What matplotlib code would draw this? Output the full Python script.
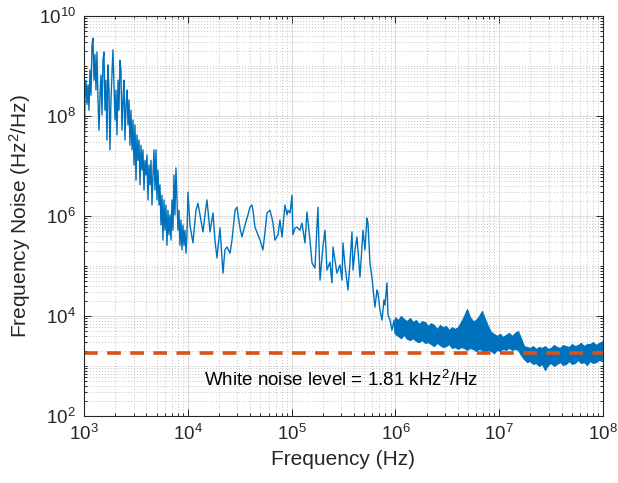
import numpy as np
import matplotlib
matplotlib.use('Agg')
import matplotlib.pyplot as plt
from matplotlib.ticker import LogLocator, NullFormatter

plt.rcParams['font.family'] = ['Liberation Sans', 'DejaVu Sans']
plt.rcParams['mathtext.fontset'] = 'custom'
plt.rcParams['mathtext.rm'] = 'Liberation Sans'
plt.rcParams['mathtext.it'] = 'Liberation Sans:italic'

freq = [
    1000, 1022, 1045, 1069, 1093, 1117, 1142, 1168, 1194, 1221,
    1248, 1276, 1305, 1334, 1364, 1395, 1426, 1459, 1491, 1524,
    1558, 1593, 1629, 1665, 1702, 1741, 1778, 1820, 1862, 1901,
    1945, 1991, 2032, 2080, 2128, 2173, 2223, 2270, 2323, 2377,
    2427, 2483, 2541, 2594, 2655, 2716, 2773,
    2837, 2900, 2965, 3032, 3100, 3170, 3241, 3313, 3388, 3464,
    3541, 3621, 3702, 3785, 3870, 3957, 4045, 4136, 4229, 4324,
    4421, 4520, 4621, 4725, 4831, 4939, 5050, 5163, 5279, 5397,
    5518, 5642, 5768, 5898, 6030, 6165, 6303, 6444, 6589, 6736,
    6887, 7042, 7200, 7361, 7526, 7695, 7867, 8043, 8224, 8408,
    8596, 8789, 8986, 9187, 9393, 9603, 9818,
    1.004e4, 1.050e4, 1.122e4, 1.199e4, 1.253e4, 1.312e4, 1.400e4, 1.464e4,
    1.531e4, 1.637e4, 1.750e4, 1.828e4, 1.910e4, 2.042e4, 2.183e4, 2.280e4,
    2.388e4, 2.553e4, 2.667e4, 2.851e4, 2.979e4, 3.048e4, 3.184e4, 3.327e4,
    3.556e4, 3.802e4, 3.972e4, 4.150e4, 4.246e4, 4.436e4, 4.742e4, 4.966e4,
    5.297e4, 5.546e4, 5.794e4, 6.194e4, 6.471e4, 6.622e4, 6.918e4, 7.396e4,
    7.727e4, 8.091e4, 8.630e4, 9.036e4, 9.226e4, 9.661e4,
    1.009e5, 1.030e5, 1.079e5, 1.127e5, 1.205e5, 1.259e5, 1.346e5, 1.406e5,
    1.503e5, 1.574e5, 1.679e5, 1.795e5, 1.879e5, 2.009e5, 2.099e5, 2.193e5,
    2.344e5, 2.449e5, 2.506e5, 2.618e5, 2.735e5, 2.924e5, 3.062e5, 3.126e5,
    3.266e5, 3.491e5, 3.656e5, 3.819e5, 3.908e5, 4.083e5, 4.266e5, 4.560e5,
    4.875e5, 5.093e5, 5.321e5, 5.445e5, 5.689e5, 5.957e5, 6.081e5, 6.353e5,
    6.653e5, 6.792e5, 7.112e5, 7.430e5, 7.762e5, 7.943e5, 8.299e5, 8.492e5,
    8.872e5, 9.268e5, 9.705e5, 9.908e5,
]
noise = [
    8.3e6, 2.1e8, 5.2e8, 1.7e8, 4.2e8, 1.3e8, 8.3e8, 2.6e8, 2.6e9, 3.6e9,
    5.2e8, 1.7e9, 3.3e8, 1.9e9, 2.1e8, 5.2e7, 2.6e8, 6.6e8, 1.05e8, 1.3e9,
    1.9e9, 1.3e8, 5.2e8, 3.3e7, 1.05e9, 3.3e8, 2.1e7, 2.1e8, 6.6e8, 2.1e9,
    4.2e8, 8.3e7, 3.3e8, 4.2e7, 5.2e8, 1.3e8, 1.3e9, 8.3e8, 5.2e7, 2.1e8,
    5.2e8, 3.3e7, 1.7e8, 3.3e8, 6.6e7, 2.1e8, 2.6e7,
    1.3e8, 2.1e7, 8.3e7, 1.05e7, 6.6e7, 5.2e6, 4.2e7, 1.3e7, 3.3e7, 4.2e6,
    2.6e7, 8.3e6, 2.1e7, 3.3e6, 1.3e7, 6.6e6, 1.66e7, 2.1e6, 1.05e7, 4.2e6,
    1.3e7, 1.66e6, 6.6e6, 2.1e7, 3.3e6, 2.1e7, 2.1e6, 8.3e6, 1.66e6, 4.2e6,
    6.6e5, 2.6e6, 3.3e5, 2.1e6, 5.2e5, 1.66e6, 2.6e5, 1.3e6, 4.2e5, 1.05e6,
    3.3e5, 2.1e6, 5.2e5, 6.6e6, 1.05e6, 9.1e6, 2.1e6, 5.2e5, 1.3e6, 2.6e5,
    8.3e5, 2.1e5, 6.6e5, 2.6e5, 5.2e5, 1.8e5, 4.2e5,
    3.0e6, 6.6e5, 2.9e5, 1.3e6, 1.8e6, 1.05e6, 4.8e5, 1.05e6,
    2.1e6, 4.8e5, 1.15e6, 3.3e5, 1.45e5, 5.75e5, 7.2e4, 2.1e5,
    2.4e5, 1.8e5, 3.3e5, 1.3e6, 1.5e6, 1.05e6, 5.75e5, 3.8e5,
    6.6e5, 1.05e6, 1.5e6, 1.66e6, 1.3e6, 6.0e5, 4.2e5, 3.3e5,
    2.1e5, 4.8e5, 1.15e6, 1.3e6, 9.1e5, 7.2e5, 3.3e5, 4.2e5,
    8.3e5, 3.8e5, 1.66e6, 1.05e6, 1.3e6, 1.15e6,
    2.6e6, 4.2e5, 5.75e5, 6.0e5, 5.2e5, 7.2e5, 2.9e5, 1.2e6,
    3.3e5, 1.15e5, 9.1e4, 1.5e6, 5.2e4, 2.6e5, 5.2e5, 8.3e4,
    1.2e5, 4.6e4, 2.4e5, 1.3e5, 7.2e4, 1.05e5, 5.2e4, 2.9e5,
    1.05e5, 3.3e4, 1.2e5, 4.8e5, 8.3e4, 2.1e5, 3.8e5, 6.0e4,
    5.2e5, 2.1e5, 9.1e5, 7.2e5, 1.15e5, 5.75e4, 3.8e4, 1.5e4,
    3.3e4, 2.9e4, 1.3e4, 8.3e3, 2.1e4, 1.66e4, 4.6e4, 1.05e4,
    8.3e3, 5.2e3, 8.3e3, 4.6e3,
]

# above ~1 MHz the trace is a dense band: upper / lower edges
band_freq = [
    9.91e5, 1.059e6, 1.132e6, 1.210e6, 1.293e6, 1.382e6, 1.477e6, 1.579e6,
    1.688e6, 1.804e6, 1.928e6, 2.061e6, 2.203e6, 2.354e6, 2.516e6, 2.689e6,
    2.874e6, 3.072e6, 3.284e6, 3.510e6, 3.752e6, 4.010e6, 4.286e6, 4.581e6,
    4.896e6, 5.233e6, 5.594e6, 5.979e6, 6.390e6, 6.830e6, 7.300e6, 7.803e6,
    8.340e6, 8.907e6, 9.522e6, 1.018e7, 1.088e7, 1.163e7, 1.243e7, 1.328e7,
    1.420e7, 1.517e7, 1.622e7, 1.733e7, 1.853e7, 1.980e7, 2.117e7, 2.262e7,
    2.418e7, 2.584e7, 2.762e7, 2.951e7, 3.155e7, 3.372e7, 3.604e7, 3.852e7,
    4.117e7, 4.400e7, 4.703e7, 5.026e7, 5.372e7, 5.741e7, 6.136e7, 6.558e7,
    7.009e7, 7.491e7, 8.006e7, 8.557e7, 9.146e7, 9.777e7, 1.0e8,
]
band_hi = [
    9.5e3, 8.3e3, 1.0e4, 8.7e3, 7.9e3, 9.1e3, 7.6e3, 8.3e3,
    6.9e3, 7.9e3, 7.6e3, 6.3e3, 7.2e3, 6.6e3, 5.5e3, 6.6e3,
    6.0e3, 6.3e3, 5.25e3, 6.0e3, 5.5e3, 6.0e3, 7.6e3, 1.0e4,
    1.38e4, 9.5e3, 7.9e3, 8.3e3, 1.0e4, 1.26e4, 8.7e3, 6.3e3,
    4.8e3, 4.4e3, 4.0e3, 4.4e3, 3.8e3, 4.2e3, 4.6e3, 4.0e3,
    4.6e3, 5.0e3, 3.6e3, 2.5e3, 2.4e3, 2.3e3, 2.5e3, 2.2e3,
    2.4e3, 2.3e3, 2.5e3, 2.2e3, 2.3e3, 2.63e3, 2.4e3, 2.3e3,
    2.63e3, 2.5e3, 2.4e3, 2.75e3, 2.5e3, 2.63e3, 2.9e3, 2.5e3,
    2.75e3, 2.75e3, 3.0e3, 2.63e3, 2.9e3, 3.0e3, 3.3e3,
]
band_lo = [
    4.4e3, 4.0e3, 3.6e3, 4.2e3, 3.5e3, 3.3e3, 3.6e3, 3.16e3,
    3.0e3, 3.3e3, 2.9e3, 3.0e3, 2.75e3, 2.5e3, 2.9e3, 2.63e3,
    2.4e3, 2.5e3, 2.75e3, 2.3e3, 2.4e3, 2.2e3, 2.4e3, 2.3e3,
    2.1e3, 2.3e3, 2.2e3, 2.0e3, 2.2e3, 2.1e3, 1.9e3, 2.1e3,
    2.0e3, 1.8e3, 2.1e3, 2.0e3, 2.2e3, 2.1e3, 2.3e3, 2.1e3,
    2.2e3, 2.1e3, 1.66e3, 1.38e3, 1.2e3, 1.26e3, 1.1e3, 1.15e3,
    1.0e3, 1.1e3, 8.3e2, 1.05e3, 1.15e3, 1.0e3, 1.1e3, 1.2e3,
    1.05e3, 1.1e3, 1.26e3, 1.1e3, 1.15e3, 1.32e3, 1.15e3, 1.2e3,
    1.05e3, 1.26e3, 1.15e3, 1.2e3, 1.32e3, 1.26e3, 1.5e3,
]

white_level = 1.81e3
x_range = [1e3, 1e8]

blue = '#0072BD'
orange = '#D95319'
axcol = '#262626'

fig = plt.figure(figsize=(6.18, 4.83), dpi=100)
ax = fig.add_axes([0.1359, 0.1387, 0.8398, 0.8282])

ax.plot(freq, noise, color=blue, lw=1.0)
ax.fill_between(band_freq, band_lo, band_hi, color=blue, lw=0.8, edgecolor=blue)
ax.plot(x_range, [white_level, white_level], color=orange, lw=2.6,
        dashes=(3.8, 2.6))

ax.set_xscale('log')
ax.set_yscale('log')
ax.set_xlim(1e3, 1e8)
ax.set_ylim(1e2, 1e10)
ax.set_xticks([1e3, 1e4, 1e5, 1e6, 1e7, 1e8])
ax.set_yticks([1e2, 1e4, 1e6, 1e8, 1e10])
ax.xaxis.set_minor_locator(LogLocator(base=10, subs=np.arange(1, 10), numticks=50))
ax.yaxis.set_minor_locator(LogLocator(base=10, subs=np.arange(1, 10), numticks=50))
ax.xaxis.set_minor_formatter(NullFormatter())
ax.yaxis.set_minor_formatter(NullFormatter())

ax.grid(which='major', color='#dedede', lw=0.8, ls='-')
ax.grid(which='minor', color='#c4c4c4', lw=0.7, ls=(0, (1, 2)))
ax.set_axisbelow(True)

ax.tick_params(which='both', direction='in', top=True, right=True,
               colors=axcol, labelsize=13.5, width=0.7)
ax.tick_params(which='major', length=5, pad=6)
ax.tick_params(which='minor', length=2.5)
for s in ax.spines.values():
    s.set_color(axcol)
    s.set_linewidth(0.8)

ax.set_xlabel('Frequency (Hz)', fontsize=15, color=axcol, labelpad=4)
ax.set_ylabel('Frequency Noise (Hz$^2$/Hz)', fontsize=15, color=axcol, labelpad=4)

ax.text(0.495, 0.09, 'White noise level = 1.81 kHz$^2$/Hz', transform=ax.transAxes,
        ha='center', va='center', fontsize=13.5, color='black')

fig.savefig('out.png', dpi=100)
